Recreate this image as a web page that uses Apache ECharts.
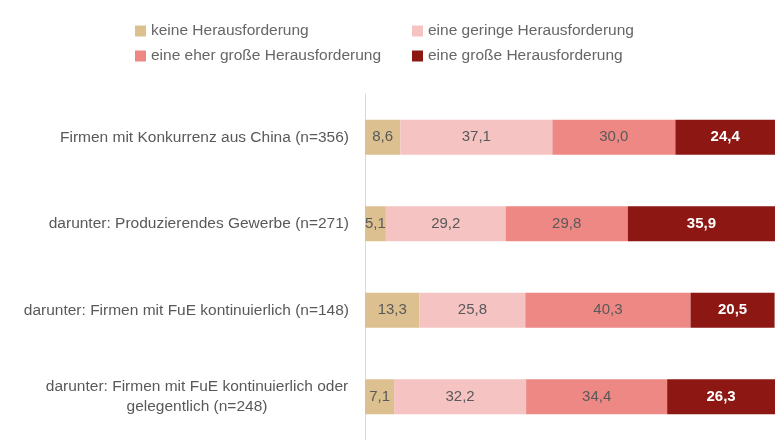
<!DOCTYPE html>
<html>
<head>
<meta charset="utf-8">
<script src="https://cdn.jsdelivr.net/npm/echarts@6/dist/echarts.min.js"></script>
<style>
  html, body { margin: 0; padding: 0; background: #fff; }
  #chart { width: 780px; height: 440px; }
</style>
</head>
<body>
<div id="chart"></div>
<script>
const categories = [
    "Firmen mit Konkurrenz aus China (n=356)",
    "darunter: Produzierendes Gewerbe (n=271)",
    "darunter: Firmen mit FuE kontinuierlich (n=148)",
    "darunter: Firmen mit FuE kontinuierlich oder\ngelegentlich (n=248)"
];
const seriesNames = [
    "keine Herausforderung",
    "eine geringe Herausforderung",
    "eine eher große Herausforderung",
    "eine große Herausforderung"
];
const keine = [8.6, 5.1, 13.3, 7.1];
const gering = [37.1, 29.2, 25.8, 32.2];
const eherGross = [30.0, 29.8, 40.3, 34.4];
const gross = [24.4, 35.9, 20.5, 26.3];

const colors = ['#dcc08f', '#f5c3c2', '#ee8884', '#8c1713'];
const font = "'Liberation Sans', sans-serif";

function fmt(v) {
    return v.toFixed(1).replace('.', ',');
}

const allData = [keine, gering, eherGross, gross];

const series = allData.map(function(d, i) {
    return {
        name: seriesNames[i],
        type: 'bar',
        stack: 'total',
        barWidth: 35,
        data: d,
        itemStyle: { color: colors[i] },
        label: {
            show: true,
            position: 'inside',
            fontFamily: font,
            fontSize: 15,
            color: i === 3 ? '#ffffff' : '#595959',
            fontWeight: i === 3 ? 'bold' : 'normal',
            formatter: function(p) { return fmt(p.value); }
        }
    };
});

function legendAt(name, left, top) {
    return {
        data: [name],
        left: left,
        top: top,
        itemWidth: 11,
        itemHeight: 11,
        itemGap: 4,
        icon: 'rect',
        textStyle: { fontFamily: font, fontSize: 15.5, color: '#666666' }
    };
}

const chart = echarts.init(document.getElementById('chart'));
chart.setOption({
    animation: false,
    color: colors,
    legend: [
        legendAt(seriesNames[0], 130, 18),
        legendAt(seriesNames[1], 407, 18),
        legendAt(seriesNames[2], 130, 43),
        legendAt(seriesNames[3], 407, 43)
    ],
    grid: { left: 365, right: 5, top: 94, bottom: 0 },
    xAxis: {
        type: 'value',
        min: 0,
        max: 100,
        show: false
    },
    yAxis: {
        type: 'category',
        inverse: true,
        data: categories,
        axisLine: { show: true, lineStyle: { color: '#d9d9d9' } },
        axisTick: { show: false },
        axisLabel: {
            margin: 16,
            fontFamily: font,
            fontSize: 15.5,
            color: '#595959',
            lineHeight: 20,
            formatter: function(v) {
                if (v.indexOf('\n') >= 0) {
                    return v.split('\n').map(function(s) { return '{c|' + s + '}'; }).join('\n');
                }
                return v;
            },
            rich: {
                c: { width: 304, align: 'center', fontFamily: font, fontSize: 15.5, color: '#595959', lineHeight: 20 }
            }
        }
    },
    series: series
});
</script>
</body>
</html>
